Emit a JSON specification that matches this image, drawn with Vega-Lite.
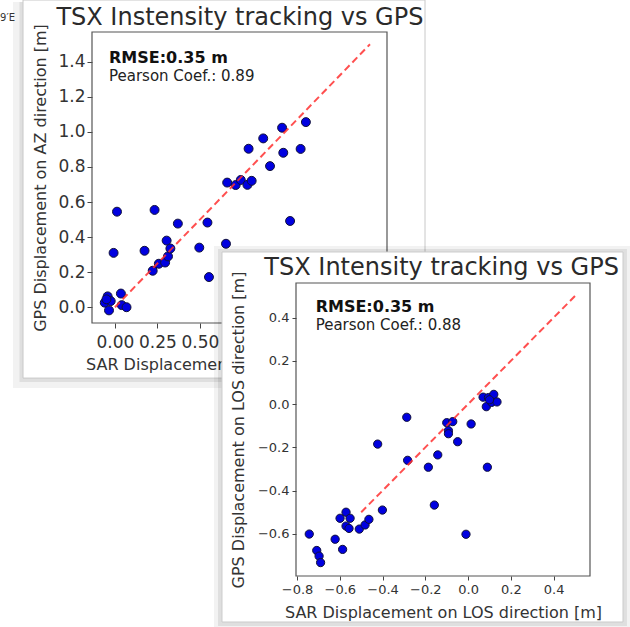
{
  "$schema": "https://vega.github.io/schema/vega-lite/v6.json",
  "width": 630,
  "height": 627,
  "autosize": {"type": "none"},
  "padding": 0,
  "background": "white",
  "config": {"view": {"stroke": null}, "font": "DejaVu Sans"},
  "datasets": {
    "az": [
      {"sar": -0.06, "gps": 0.026}, {"sar": -0.043, "gps": 0.062}, {"sar": -0.025, "gps": 0.035}, {"sar": -0.035, "gps": -0.018},
      {"sar": -0.05, "gps": 0.045}, {"sar": 0.035, "gps": 0.078}, {"sar": 0.04, "gps": 0.012}, {"sar": 0.068, "gps": 0.0},
      {"sar": -0.008, "gps": 0.31}, {"sar": 0.012, "gps": 0.545}, {"sar": 0.174, "gps": 0.322}, {"sar": 0.233, "gps": 0.555},
      {"sar": 0.222, "gps": 0.208}, {"sar": 0.258, "gps": 0.248}, {"sar": 0.295, "gps": 0.255}, {"sar": 0.304, "gps": 0.38},
      {"sar": 0.312, "gps": 0.29}, {"sar": 0.326, "gps": 0.335}, {"sar": 0.37, "gps": 0.477}, {"sar": 0.496, "gps": 0.34},
      {"sar": 0.544, "gps": 0.483}, {"sar": 0.553, "gps": 0.172}, {"sar": 0.653, "gps": 0.362}, {"sar": 0.66, "gps": 0.711},
      {"sar": 0.71, "gps": 0.697}, {"sar": 0.74, "gps": 0.726}, {"sar": 0.779, "gps": 0.698}, {"sar": 0.804, "gps": 0.721},
      {"sar": 0.786, "gps": 0.904}, {"sar": 0.872, "gps": 0.963}, {"sar": 0.912, "gps": 0.805}, {"sar": 0.983, "gps": 1.024},
      {"sar": 0.99, "gps": 0.881}, {"sar": 1.03, "gps": 0.492}, {"sar": 1.092, "gps": 0.903}, {"sar": 1.123, "gps": 1.056}
    ],
    "los": [
      {"sar": -0.743, "gps": -0.601}, {"sar": -0.708, "gps": -0.677}, {"sar": -0.697, "gps": -0.703}, {"sar": -0.69, "gps": -0.733},
      {"sar": -0.622, "gps": -0.625}, {"sar": -0.587, "gps": -0.672}, {"sar": -0.599, "gps": -0.528}, {"sar": -0.571, "gps": -0.5},
      {"sar": -0.552, "gps": -0.528}, {"sar": -0.571, "gps": -0.564}, {"sar": -0.557, "gps": -0.575}, {"sar": -0.509, "gps": -0.578},
      {"sar": -0.482, "gps": -0.559}, {"sar": -0.464, "gps": -0.533}, {"sar": -0.401, "gps": -0.49}, {"sar": -0.423, "gps": -0.185},
      {"sar": -0.287, "gps": -0.061}, {"sar": -0.283, "gps": -0.26}, {"sar": -0.186, "gps": -0.292}, {"sar": -0.142, "gps": -0.235},
      {"sar": -0.158, "gps": -0.467}, {"sar": -0.1, "gps": -0.086}, {"sar": -0.072, "gps": -0.081}, {"sar": -0.092, "gps": -0.123},
      {"sar": -0.092, "gps": -0.137}, {"sar": -0.049, "gps": -0.174}, {"sar": 0.014, "gps": -0.092}, {"sar": -0.01, "gps": -0.602},
      {"sar": 0.09, "gps": -0.292}, {"sar": 0.07, "gps": 0.032}, {"sar": 0.095, "gps": 0.03}, {"sar": 0.12, "gps": 0.045},
      {"sar": 0.085, "gps": -0.012}, {"sar": 0.11, "gps": 0.008}, {"sar": 0.135, "gps": 0.01}, {"sar": 0.1, "gps": 0.02}
    ],
    "one": [{}]
  },
  "layer": [
    {
      "layer": [
        {
          "data": {"name": "one"},
          "mark": {"type": "rect", "fill": "#000", "opacity": 0.05, "clip": false},
          "encoding": {
            "x": {"datum": -0.6, "type": "quantitative", "scale": {"domain": [-0.135, 1.6], "range": [92, 387], "nice": false, "zero": false}},
            "x2": {"datum": -0.5408},
            "y": {"datum": 1.7412, "type": "quantitative", "scale": {"domain": [-0.09, 1.57], "range": [323, 32], "nice": false, "zero": false}},
            "y2": {"datum": -0.4614}
          }
        },
        {
          "data": {"name": "one"},
          "mark": {"type": "rect", "fill": "#000", "opacity": 0.08, "clip": false},
          "encoding": {
            "x": {"datum": -0.5614, "type": "quantitative", "scale": {"domain": [-0.135, 1.6], "range": [92, 387], "nice": false, "zero": false}},
            "x2": {"datum": -0.5408},
            "y": {"datum": 1.7412, "type": "quantitative", "scale": {"domain": [-0.09, 1.57], "range": [323, 32], "nice": false, "zero": false}},
            "y2": {"datum": -0.427}
          }
        },
        {
          "data": {"name": "one"},
          "mark": {"type": "rect", "fill": "#000", "opacity": 0.05, "clip": false},
          "encoding": {
            "x": {"datum": -0.5408, "type": "quantitative", "scale": {"domain": [-0.135, 1.6], "range": [92, 387], "nice": false, "zero": false}},
            "x2": {"datum": 1.8117},
            "y": {"datum": -0.4042, "type": "quantitative", "scale": {"domain": [-0.09, 1.57], "range": [323, 32], "nice": false, "zero": false}},
            "y2": {"datum": -0.4614}
          }
        },
        {
          "data": {"name": "one"},
          "mark": {"type": "rect", "fill": "#000", "opacity": 0.08, "clip": false},
          "encoding": {
            "x": {"datum": -0.5408, "type": "quantitative", "scale": {"domain": [-0.135, 1.6], "range": [92, 387], "nice": false, "zero": false}},
            "x2": {"datum": 1.8235},
            "y": {"datum": -0.4042, "type": "quantitative", "scale": {"domain": [-0.09, 1.57], "range": [323, 32], "nice": false, "zero": false}},
            "y2": {"datum": -0.427}
          }
        },
        {
          "data": {"name": "one"},
          "mark": {"type": "rect", "fillOpacity": 0, "stroke": "#c8c8c8", "strokeWidth": 1, "clip": false},
          "encoding": {
            "x": {"datum": -0.5408, "type": "quantitative", "scale": {"domain": [-0.135, 1.6], "range": [92, 387], "nice": false, "zero": false}},
            "x2": {"datum": 1.8235},
            "y": {"datum": 1.7526, "type": "quantitative", "scale": {"domain": [-0.09, 1.57], "range": [323, 32], "nice": false, "zero": false}},
            "y2": {"datum": -0.4042}
          }
        },
        {
          "data": {"name": "one"},
          "mark": {"type": "rect", "fillOpacity": 0, "stroke": "#555", "strokeWidth": 1.2, "clip": false},
          "encoding": {
            "x": {"datum": -0.135, "type": "quantitative", "scale": {"domain": [-0.135, 1.6], "range": [92, 387], "nice": false, "zero": false}},
            "x2": {"datum": 1.6},
            "y": {"datum": -0.09, "type": "quantitative", "scale": {"domain": [-0.09, 1.57], "range": [323, 32], "nice": false, "zero": false}},
            "y2": {"datum": 1.57}
          }
        },
        {
          "data": {"name": "az"},
          "mark": {"type": "point", "filled": true, "fill": "#0000e0", "stroke": "#10103a", "strokeWidth": 1, "opacity": 1, "size": 80},
          "encoding": {
            "x": {
              "field": "sar", "type": "quantitative",
              "scale": {"domain": [-0.135, 1.6], "range": [92, 387], "nice": false, "zero": false},
              "axis": {
                "orient": "bottom", "offset": -304,
                "title": "SAR Displacement on AZ direction [m]", "values": [0, 0.25, 0.5], "format": ".2f",
                "zindex": 0, "domain": false, "grid": false, "tickSize": 5, "tickColor": "#444", "labelColor": "#333",
                "labelFont": "DejaVu Sans", "labelFontSize": 17, "labelPadding": 6, "labelFlush": false, "labelOverlap": false,
                "titleFont": "DejaVu Sans", "titleFontSize": 16, "titleFontWeight": "normal", "titleColor": "#333", "titlePadding": 6
              }
            },
            "y": {
              "field": "gps", "type": "quantitative",
              "scale": {"domain": [-0.09, 1.57], "range": [323, 32], "nice": false, "zero": false},
              "axis": {
                "orient": "left", "offset": -92,
                "title": "GPS Displacement on AZ direction [m]", "values": [0, 0.2, 0.4, 0.6, 0.8, 1.0, 1.2, 1.4], "format": ".1f",
                "zindex": 0, "domain": false, "grid": false, "tickSize": 5, "tickColor": "#444", "labelColor": "#333",
                "labelFont": "DejaVu Sans", "labelFontSize": 17, "labelPadding": 2, "labelFlush": false, "labelOverlap": false,
                "titleFont": "DejaVu Sans", "titleFontSize": 16, "titleFontWeight": "normal", "titleColor": "#333", "titlePadding": 9
              }
            }
          }
        },
        {
          "data": {"name": "one"},
          "mark": {"type": "rule", "color": "#ff3030", "opacity": 0.85, "strokeWidth": 2, "strokeDash": [7, 4]},
          "encoding": {
            "x": {"datum": 0, "type": "quantitative", "scale": {"domain": [-0.135, 1.6], "range": [92, 387], "nice": false, "zero": false}},
            "x2": {"datum": 1.5},
            "y": {"datum": 0, "type": "quantitative", "scale": {"domain": [-0.09, 1.57], "range": [323, 32], "nice": false, "zero": false}},
            "y2": {"datum": 1.5}
          }
        },
        {
          "data": {"name": "one"},
          "mark": {"type": "text", "text": "RMSE:0.35 m", "font": "DejaVu Sans", "fontSize": 16, "fontWeight": "bold", "align": "left", "baseline": "middle", "color": "#111", "clip": false},
          "encoding": {
            "x": {"datum": -0.035, "type": "quantitative", "scale": {"domain": [-0.135, 1.6], "range": [92, 387], "nice": false, "zero": false}},
            "y": {"datum": 1.42, "type": "quantitative", "scale": {"domain": [-0.09, 1.57], "range": [323, 32], "nice": false, "zero": false}}
          }
        },
        {
          "data": {"name": "one"},
          "mark": {"type": "text", "text": "Pearson Coef.: 0.89", "font": "DejaVu Sans", "fontSize": 15, "align": "left", "baseline": "middle", "color": "#222", "clip": false},
          "encoding": {
            "x": {"datum": -0.035, "type": "quantitative", "scale": {"domain": [-0.135, 1.6], "range": [92, 387], "nice": false, "zero": false}},
            "y": {"datum": 1.319, "type": "quantitative", "scale": {"domain": [-0.09, 1.57], "range": [323, 32], "nice": false, "zero": false}}
          }
        },
        {
          "data": {"name": "one"},
          "mark": {"type": "text", "text": "TSX Instensity tracking vs GPS", "font": "DejaVu Sans", "fontSize": 24, "align": "center", "baseline": "middle", "color": "#2a2a2a", "clip": false},
          "encoding": {
            "x": {"datum": 0.735, "type": "quantitative", "scale": {"domain": [-0.135, 1.6], "range": [92, 387], "nice": false, "zero": false}},
            "y": {"datum": 1.65, "type": "quantitative", "scale": {"domain": [-0.09, 1.57], "range": [323, 32], "nice": false, "zero": false}}
          }
        },
        {
          "data": {"name": "one"},
          "mark": {"type": "text", "text": "9′E", "font": "DejaVu Sans", "fontSize": 10, "align": "left", "baseline": "middle", "color": "#333", "clip": false},
          "encoding": {
            "x": {"datum": -0.676, "type": "quantitative", "scale": {"domain": [-0.135, 1.6], "range": [92, 387], "nice": false, "zero": false}},
            "y": {"datum": 1.65, "type": "quantitative", "scale": {"domain": [-0.09, 1.57], "range": [323, 32], "nice": false, "zero": false}}
          }
        }
      ]
    },
    {
      "layer": [
        {
          "data": {"name": "one"},
          "mark": {"type": "rect", "fill": "#000", "opacity": 0.05, "clip": false},
          "encoding": {
            "x": {"datum": -1.1885, "type": "quantitative", "scale": {"domain": [-0.805, 0.57], "range": [296, 590], "nice": false, "zero": false}},
            "x2": {"datum": 0.7617},
            "y": {"datum": 0.7311, "type": "quantitative", "scale": {"domain": [-0.795, 0.56], "range": [576, 283], "nice": false, "zero": false}},
            "y2": {"datum": -1.0447}
          }
        },
        {
          "data": {"name": "one"},
          "mark": {"type": "rect", "fill": "#000", "opacity": 0.08, "clip": false},
          "encoding": {
            "x": {"datum": -1.1698, "type": "quantitative", "scale": {"domain": [-0.805, 0.57], "range": [296, 590], "nice": false, "zero": false}},
            "x2": {"datum": 0.743},
            "y": {"datum": 0.7172, "type": "quantitative", "scale": {"domain": [-0.795, 0.56], "range": [576, 283], "nice": false, "zero": false}},
            "y2": {"datum": -1.0262}
          }
        },
        {
          "data": {"name": "one"},
          "mark": {"type": "rect", "fill": "white", "stroke": "#cccccc", "strokeWidth": 1, "clip": false},
          "encoding": {
            "x": {"datum": -1.1511, "type": "quantitative", "scale": {"domain": [-0.805, 0.57], "range": [296, 590], "nice": false, "zero": false}},
            "x2": {"datum": 0.7243},
            "y": {"datum": 0.7034, "type": "quantitative", "scale": {"domain": [-0.795, 0.56], "range": [576, 283], "nice": false, "zero": false}},
            "y2": {"datum": -1.0077}
          }
        },
        {
          "data": {"name": "one"},
          "mark": {"type": "rect", "fillOpacity": 0, "stroke": "#555", "strokeWidth": 1.2, "clip": false},
          "encoding": {
            "x": {"datum": -0.805, "type": "quantitative", "scale": {"domain": [-0.805, 0.57], "range": [296, 590], "nice": false, "zero": false}},
            "x2": {"datum": 0.57},
            "y": {"datum": -0.795, "type": "quantitative", "scale": {"domain": [-0.795, 0.56], "range": [576, 283], "nice": false, "zero": false}},
            "y2": {"datum": 0.56}
          }
        },
        {
          "data": {"name": "los"},
          "mark": {"type": "point", "filled": true, "fill": "#0000e0", "stroke": "#10103a", "strokeWidth": 1, "opacity": 1, "size": 68},
          "encoding": {
            "x": {
              "field": "sar", "type": "quantitative",
              "scale": {"domain": [-0.805, 0.57], "range": [296, 590], "nice": false, "zero": false},
              "axis": {
                "orient": "bottom", "offset": -51,
                "title": "SAR Displacement on LOS direction [m]", "values": [-0.8, -0.6, -0.4, -0.2, 0, 0.2, 0.4], "format": ".1f",
                "zindex": 1, "domain": false, "grid": false, "tickSize": 4, "tickColor": "#444", "labelColor": "#333",
                "labelFont": "DejaVu Sans", "labelFontSize": 13, "labelPadding": 3, "labelFlush": false, "labelOverlap": false,
                "titleFont": "DejaVu Sans", "titleFontSize": 16, "titleFontWeight": "normal", "titleColor": "#333", "titlePadding": 8
              }
            },
            "y": {
              "field": "gps", "type": "quantitative",
              "scale": {"domain": [-0.795, 0.56], "range": [576, 283], "nice": false, "zero": false},
              "axis": {
                "orient": "left", "offset": -296,
                "title": "GPS Displacement on LOS direction [m]", "values": [-0.6, -0.4, -0.2, 0, 0.2, 0.4], "format": ".1f",
                "zindex": 1, "domain": false, "grid": false, "tickSize": 4, "tickColor": "#444", "labelColor": "#333",
                "labelFont": "DejaVu Sans", "labelFontSize": 13, "labelPadding": 3, "labelFlush": false, "labelOverlap": false,
                "titleFont": "DejaVu Sans", "titleFontSize": 16, "titleFontWeight": "normal", "titleColor": "#333", "titlePadding": 11
              }
            }
          }
        },
        {
          "data": {"name": "one"},
          "mark": {"type": "rule", "color": "#ff3030", "opacity": 0.85, "strokeWidth": 2, "strokeDash": [7, 4]},
          "encoding": {
            "x": {"datum": -0.5, "type": "quantitative", "scale": {"domain": [-0.805, 0.57], "range": [296, 590], "nice": false, "zero": false}},
            "x2": {"datum": 0.5},
            "y": {"datum": -0.5, "type": "quantitative", "scale": {"domain": [-0.795, 0.56], "range": [576, 283], "nice": false, "zero": false}},
            "y2": {"datum": 0.5}
          }
        },
        {
          "data": {"name": "one"},
          "mark": {"type": "text", "text": "RMSE:0.35 m", "font": "DejaVu Sans", "fontSize": 16, "fontWeight": "bold", "align": "left", "baseline": "middle", "color": "#111", "clip": false},
          "encoding": {
            "x": {"datum": -0.713, "type": "quantitative", "scale": {"domain": [-0.805, 0.57], "range": [296, 590], "nice": false, "zero": false}},
            "y": {"datum": 0.45, "type": "quantitative", "scale": {"domain": [-0.795, 0.56], "range": [576, 283], "nice": false, "zero": false}}
          }
        },
        {
          "data": {"name": "one"},
          "mark": {"type": "text", "text": "Pearson Coef.: 0.88", "font": "DejaVu Sans", "fontSize": 15, "align": "left", "baseline": "middle", "color": "#222", "clip": false},
          "encoding": {
            "x": {"datum": -0.713, "type": "quantitative", "scale": {"domain": [-0.805, 0.57], "range": [296, 590], "nice": false, "zero": false}},
            "y": {"datum": 0.366, "type": "quantitative", "scale": {"domain": [-0.795, 0.56], "range": [576, 283], "nice": false, "zero": false}}
          }
        },
        {
          "data": {"name": "one"},
          "mark": {"type": "text", "text": "TSX Intensity tracking vs GPS", "font": "DejaVu Sans", "fontSize": 24, "align": "center", "baseline": "middle", "color": "#2a2a2a", "clip": false},
          "encoding": {
            "x": {"datum": -0.124, "type": "quantitative", "scale": {"domain": [-0.805, 0.57], "range": [296, 590], "nice": false, "zero": false}},
            "y": {"datum": 0.6295, "type": "quantitative", "scale": {"domain": [-0.795, 0.56], "range": [576, 283], "nice": false, "zero": false}}
          }
        }
      ]
    }
  ],
  "resolve": {"scale": {"x": "independent", "y": "independent"}, "axis": {"x": "independent", "y": "independent"}}
}
